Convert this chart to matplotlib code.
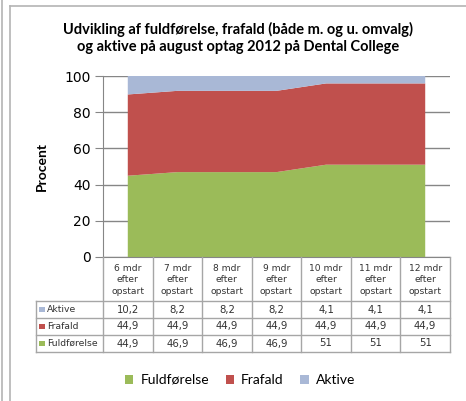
import matplotlib
matplotlib.use("Agg")
import matplotlib.pyplot as plt
import numpy as np
from matplotlib.lines import Line2D
from matplotlib.patches import Patch

plt.rcParams["font.family"] = ["DejaVu Sans"]

categories = ["6 mdr\nefter\nopstart", "7 mdr\nefter\nopstart", "8 mdr\nefter\nopstart",
              "9 mdr\nefter\nopstart", "10 mdr\nefter\nopstart", "11 mdr\nefter\nopstart",
              "12 mdr\nefter\nopstart"]
fuldfoerelse = [44.9, 46.9, 46.9, 46.9, 51, 51, 51]
frafald = [44.9, 44.9, 44.9, 44.9, 44.9, 44.9, 44.9]
aktive = [10.2, 8.2, 8.2, 8.2, 4.1, 4.1, 4.1]

series = [("Fuldførelse", fuldfoerelse, "#9BBB59"),
          ("Frafald", frafald, "#C0504D"),
          ("Aktive", aktive, "#A9B8D6")]

W, H = 466, 401
fig = plt.figure(figsize=(W / 100, H / 100), dpi=100)


def fx(px):
    return px / W


def fy(py):
    return 1 - py / H


# outer frame lines
frame_c = "#B4B4B4"
fig.add_artist(Line2D([fx(1.5), fx(1.5)], [0, 1], color=frame_c, lw=1.2))
fig.add_artist(Line2D([fx(10), fx(10)], [0, fy(6)], color=frame_c, lw=1.2))
fig.add_artist(Line2D([fx(10), 1], [fy(6), fy(6)], color=frame_c, lw=1.2))

# main chart
x0, x1, ytop, ybot = 103, 450, 76, 257
ax = fig.add_axes([fx(x0), fy(ybot), fx(x1 - x0), (ybot - ytop) / H])
n = len(categories)
x = np.arange(n)
ax.stackplot(x, fuldfoerelse, frafald, aktive,
             colors=[c for _, _, c in series], linewidth=0, zorder=2)
ax.set_xlim(-0.5, n - 0.5)
ax.set_ylim(0, 100)
ax.set_yticks(range(0, 101, 20))
ax.yaxis.grid(True, color="#868686", lw=1, zorder=0)
ax.set_axisbelow(True)
ax.set_xticks([])
for s in ["top", "right"]:
    ax.spines[s].set_visible(False)
ax.spines["left"].set_color("#868686")
ax.spines["bottom"].set_color("#868686")
ax.tick_params(axis="y", length=6, color="#868686", labelsize=10, pad=3)
ax.set_ylabel("Procent", fontsize=10, fontweight="bold", labelpad=12,
              family=["Lato", "DejaVu Sans"])

# data table
tx0, tx1, tybot = 36, 450, 352
row_h = 17
head_b = 301
tab = fig.add_axes([fx(tx0), fy(tybot), fx(tx1 - tx0), (tybot - ybot) / H])
tab.set_xlim(tx0, tx1)
tab.set_ylim(tybot, ybot)
tab.axis("off")
col_w = (x1 - x0) / n
line_c = "#A6A6A6"
bounds = [x0 + i * col_w for i in range(n + 1)]
for b in bounds:
    tab.plot([b, b], [ybot, tybot], color=line_c, lw=1, clip_on=False)
tab.plot([tx0, tx0], [head_b, tybot], color=line_c, lw=1, clip_on=False)
for k in range(4):
    yy = head_b + k * row_h
    tab.plot([tx0, tx1], [yy, yy], color=line_c, lw=1, clip_on=False)
for i, cat in enumerate(categories):
    tab.text(x0 + (i + 0.5) * col_w, (ybot + head_b) / 2 + 1, cat, ha="center",
             va="center", fontsize=6.6, linespacing=1.4, color="#333333")
rows = [series[2], series[1], series[0]]
for r, (name, vals, c) in enumerate(rows):
    yc = head_b + (r + 0.5) * row_h
    tab.add_patch(plt.Rectangle((tx0 + 3, yc - 2.7), 5.5, 5.5, color=c, lw=0))
    tab.text(tx0 + 11, yc, name, ha="left", va="center", fontsize=6.7,
             color="#333333")
    for i, v in enumerate(vals):
        lab = f"{v:g}".replace(".", ",")
        tab.text(x0 + (i + 0.5) * col_w, yc, lab, ha="center", va="center",
                 fontsize=7.3, color="#333333")

# title
fig.text(fx(238), fy(38), "Udvikling af fuldførelse, frafald (både m. og u. omvalg)\n"
         "og aktive på august optag 2012 på Dental College",
         ha="center", va="center", fontsize=10.5, fontweight="bold",
         linespacing=1.35, family=["Lato", "DejaVu Sans"])

# legend
handles = [Patch(facecolor=c, edgecolor="none", label=name) for name, _, c in series]
fig.legend(handles=handles, loc="center", bbox_to_anchor=(fx(240), fy(380)),
           ncol=3, frameon=False, handlelength=0.6, handleheight=0.6,
           handletextpad=0.5, columnspacing=1.2,
           prop={"family": ["Lato", "DejaVu Sans"], "size": 10})

fig.savefig("out.png", dpi=100)
